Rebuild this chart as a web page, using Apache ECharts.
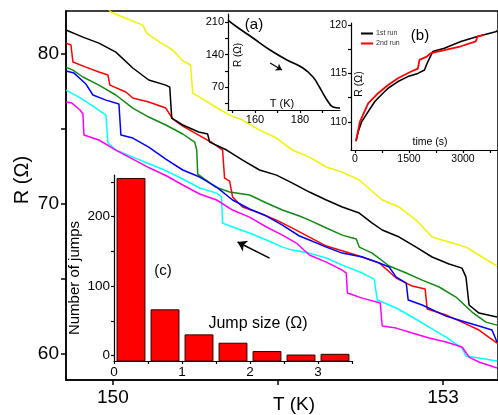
<!DOCTYPE html>
<html><head><meta charset="utf-8">
<script src="https://cdn.jsdelivr.net/npm/echarts@6/dist/echarts.min.js"></script>
<style>html,body{margin:0;padding:0;background:#fff}#c{width:498px;height:415px}</style>
</head><body><div id="c"></div>
<script>
// ---- main panel: R (Ohm) vs T (K), seven cooling runs ----
const yellowT = [149.96,149.982,150.109,150.272,150.308,150.426,150.544,150.626,150.707,150.725,150.789,150.934,151.061,151.179,151.333,151.487,151.632,151.786,151.940,152.085,152.239,152.448,152.602,152.756,152.901,153.055,153.210,153.355,153.491];
const yellowR = [83.0,82.8,82.4,81.93,81.4,80.8,80.27,79.6,79.27,77.4,77.13,76.47,75.93,75.6,74.93,74.4,73.6,73.13,72.47,72.13,71.6,70.27,69.8,68.93,67.8,67.47,67.13,66.47,65.87];
const blackT = [149.574,149.728,149.873,150.027,150.181,150.326,150.481,150.517,150.535,150.635,150.780,150.861,150.880,151.034,151.179,151.333,151.487,151.632,151.786,151.940,152.085,152.239,152.357,152.448,152.602,152.756,152.901,153.055,153.173,153.209,153.237,153.327,153.491];
const blackR = [81.6,81.13,80.73,80.13,79.07,78.27,77.93,77.8,75.73,75.27,74.8,74.67,74.13,73.6,72.93,72.27,71.93,71.4,70.8,70.27,69.8,69.4,68.73,68.27,67.8,67.13,66.47,66.0,65.73,65.13,63.27,62.73,62.47];
const redT = [149.574,149.619,149.637,149.755,149.873,149.955,149.973,150.118,150.181,150.326,150.481,150.544,150.635,150.780,150.907,150.997,151.015,151.061,151.088,151.179,151.333,151.487,151.632,151.786,151.940,152.121,152.267,152.421,152.575,152.720,152.838,152.856,153.028,153.173,153.327,153.491];
const redR = [80.73,80.6,79.47,79.13,78.8,78.6,77.93,77.47,77.07,76.8,76.4,75.67,75.2,74.6,74.07,73.6,71.73,71.53,70.47,69.8,69.4,68.93,68.4,67.8,67.2,66.8,66.47,66.07,65.07,64.53,64.33,63.0,62.6,62.13,61.6,60.73];
const greenT = [149.574,149.637,149.728,149.873,150.027,150.181,150.326,150.481,150.635,150.744,150.762,150.771,150.934,151.061,151.242,151.396,151.541,151.695,151.786,151.940,152.085,152.212,152.239,152.357,152.511,152.666,152.811,152.965,153.118,153.264,153.390,153.491];
const greenR = [79.13,78.93,78.47,77.93,77.27,76.4,75.8,75.27,74.67,74.13,73.6,72.0,71.13,70.8,70.6,70.07,69.6,69.2,68.93,68.4,67.93,67.67,67.13,66.73,65.87,65.4,64.93,64.47,63.8,62.8,62.13,61.93];
const blueT = [149.574,149.647,149.755,149.819,149.937,150.055,150.073,150.181,150.326,150.481,150.635,150.789,150.943,151.088,151.242,151.396,151.541,151.695,151.786,151.940,152.085,152.267,152.421,152.511,152.575,152.666,152.684,152.811,153.028,153.173,153.327,153.445,153.491];
const blueR = [78.87,78.73,78.0,77.27,76.93,76.67,74.6,74.4,73.8,73.0,72.27,71.8,71.13,70.27,69.67,69.2,68.6,67.87,67.6,67.13,66.73,66.47,66.07,65.8,65.13,64.73,63.6,63.27,62.53,62.2,61.87,61.6,60.8];
const cyanT = [149.574,149.692,149.819,149.937,149.955,150.027,150.181,150.335,150.490,150.635,150.789,150.943,150.988,150.997,151.088,151.242,151.396,151.541,151.632,151.786,151.940,152.085,152.267,152.375,152.403,152.575,152.720,152.874,153.028,153.173,153.209,153.327,153.491];
const cyanR = [77.6,77.13,76.53,75.93,74.07,73.6,73.13,72.67,72.2,71.67,71.07,70.73,70.47,68.73,68.47,68.07,67.6,67.13,66.93,66.73,66.4,65.93,65.4,65.0,63.6,63.07,62.47,61.8,61.13,60.4,59.87,59.73,59.53];
const magentaT = [149.574,149.628,149.701,149.728,149.737,149.873,150.027,150.181,150.335,150.490,150.635,150.789,150.943,151.088,151.242,151.396,151.541,151.668,151.786,151.940,152.085,152.121,152.131,152.267,152.430,152.448,152.575,152.720,152.874,153.028,153.173,153.237,153.327,153.491];
const magentaR = [76.8,76.73,76.27,76.0,74.6,74.27,73.6,73.0,72.4,71.87,71.27,70.67,70.27,69.6,69.13,68.47,67.93,67.4,66.6,66.13,65.6,65.4,64.07,63.73,63.4,61.87,61.73,61.4,61.07,60.8,60.47,59.8,59.47,59.07];
const mainArrow = [[151.424, 66.4], [151.133, 67.47]];

// ---- inset (a): R vs T, wide range ----
const aT = [148.0,152.0,159.1,166.7,174.2,181.3,185.8,188.9,192.0,194.7,197.8];
const aR = [214.1,199.1,175.5,149.8,128.4,111.2,91.9,68.4,42.6,27.6,25.5];
const aArrow = [[166.7, 121.9], [172.0, 106.9]];

// ---- inset (b): R vs time ----
const run1Time = [28,91,184,367,551,735,919,1194,1470,1746,1930,2004,2159,2481,2941,3400,3906,3960];
const run1R = [108.0,109.0,110.0,111.06,112.1,112.8,113.47,114.16,114.67,115.0,115.36,116.05,117.25,117.6,118.3,118.8,119.3,119.4];
const run2Time = [28,138,367,643,919,1194,1562,1746,1792,1977,2114,2481,2941,3354,3400,3584];
const run2R = [108.04,110.03,111.9,112.96,113.8,114.5,115.2,115.5,116.4,116.7,117.1,117.4,117.8,118.3,118.8,118.97];

// ---- inset (c): histogram of jump sizes ----
const jumpSizeCenters = [0.25,0.75,1.25,1.75,2.25,2.75,3.25];
const jumpCounts = [255,66,30,18,6,1,2];
const binWidth = 0.5;

// tick values
const mainXTicks = [150,151.5,153], mainXLabels = [150,153];
const mainYTicks = [60,65,70,75,80], mainYLabels = [60,70,80];
const aXTicks = [150,160,170,180,190], aXLabels = [160,180];
const aYTicks = [35,70,105,140,175,210], aYLabels = [70,140,210];
const bXTicks = [0,750,1500,2250,3000,3750], bXLabels = [0,1500,3000];
const bYTicks = [110,112.5,115,117.5,120], bYLabels = [110,115,120];
const cXTicks = [0,0.5,1,1.5,2,2.5,3,3.5], cXLabels = [0,1,2,3];
const cYTicks = [0,50,100,150,200,250], cYLabels = [0,100,200];

const zip = (a,b) => a.map((v,i)=>[v,b[i]]);
const FONT = 'Liberation Sans, Arial, Helvetica, sans-serif';
const cYMin = -7.6;

function axis(gridIndex, min, max, ticks, labels, o) {
  return {
    type:'value', gridIndex, min, max,
    axisLine:{show:true, onZero:false, lineStyle:{color:'#000', width:o.lw}},
    axisTick:{show:true, inside:false, length:o.tl, customValues:ticks, lineStyle:{color:'#000', width:o.lw}},
    axisLabel:{show:true, customValues:labels, color:'#000', fontSize:o.fs, fontFamily:FONT, margin:o.m,
      formatter: v => String(v)},
    splitLine:{show:false}
  };
}

const mainColors = {yellow:'#f2f200', black:'#000000', red:'#ff0000', green:'#108a10', blue:'#0000ff', cyan:'#00ffff', magenta:'#ff00ff'};
function mainLine(name, T, R, color, extra) {
  return Object.assign({type:'line', name, xAxisIndex:0, yAxisIndex:0, data:zip(T,R), showSymbol:false, symbol:'none',
    lineStyle:{color, width:1.5}, itemStyle:{color}, z:3}, extra||{});
}

const chart = echarts.init(document.getElementById('c'), null, {renderer:'canvas'});
const txt = (text, x, y, size, rot) => ({type:'text', x, y, rotation: rot||0, z:20,
  style:{text, fill:'#000', font: size+'px '+FONT, align:'center', verticalAlign:'middle'}});

chart.setOption({
  animation:false,
  backgroundColor:'#fff',
  grid:[
    {left:66, top:11, width:433, height:369, show:true, borderColor:'#000', borderWidth:1.5, backgroundColor:'transparent'},
    {left:228, top:14, width:112, height:96},
    {left:351, top:23, width:148, height:127},
    {left:114, top:175, width:238, height:186}
  ],
  xAxis:[
    axis(0,149.574,153.5,mainXTicks,mainXLabels,{lw:1.5,tl:5,fs:19,m:8}),
    axis(1,148,197.8,aXTicks,aXLabels,{lw:1.2,tl:3,fs:11,m:4}),
    axis(2,-110,3971,bXTicks,bXLabels,{lw:1.2,tl:3,fs:10.5,m:4}),
    axis(3,0,3.5,cXTicks,cXLabels,{lw:1.2,tl:3,fs:13.5,m:4})
  ],
  yAxis:[
    axis(0,58.27,82.87,mainYTicks,mainYLabels,{lw:1.5,tl:5,fs:19,m:7}),
    axis(1,21.2,227,aYTicks,aYLabels,{lw:1.2,tl:3,fs:11,m:4}),
    axis(2,107.1,120.2,bYTicks,bYLabels,{lw:1.2,tl:3,fs:10.5,m:4}),
    axis(3,cYMin,260,cYTicks,cYLabels,{lw:1.2,tl:3,fs:13.5,m:4})
  ],
  legend:{
    data:['1st run','2nd run'], orient:'vertical', left:356, top:25, itemGap:3,
    itemWidth:12, itemHeight:2, icon:'rect',
    textStyle:{fontSize:7, color:'#333', fontFamily:FONT, padding:[0,0,0,-2]}
  },
  series:[
    mainLine('yellow', yellowT, yellowR, mainColors.yellow),
    mainLine('green', greenT, greenR, mainColors.green),
    mainLine('cyan', cyanT, cyanR, mainColors.cyan),
    mainLine('magenta', magentaT, magentaR, mainColors.magenta),
    mainLine('red', redT, redR, mainColors.red),
    mainLine('blue', blueT, blueR, mainColors.blue),
    mainLine('black', blackT, blackR, mainColors.black, {
      markLine:{silent:true, symbol:['none','arrow'], symbolSize:9, label:{show:false},
        lineStyle:{color:'#000', type:'solid', width:1.5}, emphasis:{disabled:true},
        data:[[{coord:mainArrow[0]},{coord:mainArrow[1]}]]}
    }),
    {type:'line', name:'a', xAxisIndex:1, yAxisIndex:1, data:zip(aT,aR), smooth:0.4, showSymbol:false, symbol:'none',
      lineStyle:{color:'#000', width:1.6}, z:5,
      markLine:{silent:true, symbol:['none','arrow'], symbolSize:6, label:{show:false},
        lineStyle:{color:'#000', type:'solid', width:1.2}, emphasis:{disabled:true},
        data:[[{coord:aArrow[0]},{coord:aArrow[1]}]]}},
    {type:'line', name:'1st run', xAxisIndex:2, yAxisIndex:2, data:zip(run1Time,run1R), showSymbol:false, symbol:'none',
      lineStyle:{color:'#000', width:1.6}, itemStyle:{color:'#000'}, z:5},
    {type:'line', name:'2nd run', xAxisIndex:2, yAxisIndex:2, data:zip(run2Time,run2R), showSymbol:false, symbol:'none',
      lineStyle:{color:'#ff0000', width:1.8}, itemStyle:{color:'#ff0000'}, z:6},
    {type:'custom', name:'hist', xAxisIndex:3, yAxisIndex:3, z:4,
      data: zip(jumpSizeCenters, jumpCounts),
      renderItem:function(params, api){
        const c = api.value(0), v = api.value(1);
        const p0 = api.coord([c - binWidth*0.41, v]);
        const p1 = api.coord([c + binWidth*0.41, cYMin]);
        return {type:'rect', shape:{x:p0[0], y:p0[1], width:p1[0]-p0[0], height:p1[1]-p0[1]},
          style:{fill:'#ff0000', stroke:'#2a0000', lineWidth:1}};
      }}
  ],
  graphic:[
    txt('R (\u03A9)', 22, 180, 20, Math.PI/2),
    txt('T (K)', 294, 405, 19),
    txt('(a)', 254, 25, 15),
    txt('R (\u03A9)', 238, 55, 10, Math.PI/2),
    txt('T (K)', 282, 104, 11),
    txt('(b)', 420, 36, 15),
    txt('R (\u03A9)', 359, 84, 10.5, Math.PI/2),
    txt('time (s)', 430, 142, 10.5),
    txt('(c)', 163, 271, 15),
    txt('Number of jumps', 75, 278, 15, Math.PI/2),
    txt('Jump size (\u03A9)', 258, 324, 16)
  ]
});
</script></body></html>
